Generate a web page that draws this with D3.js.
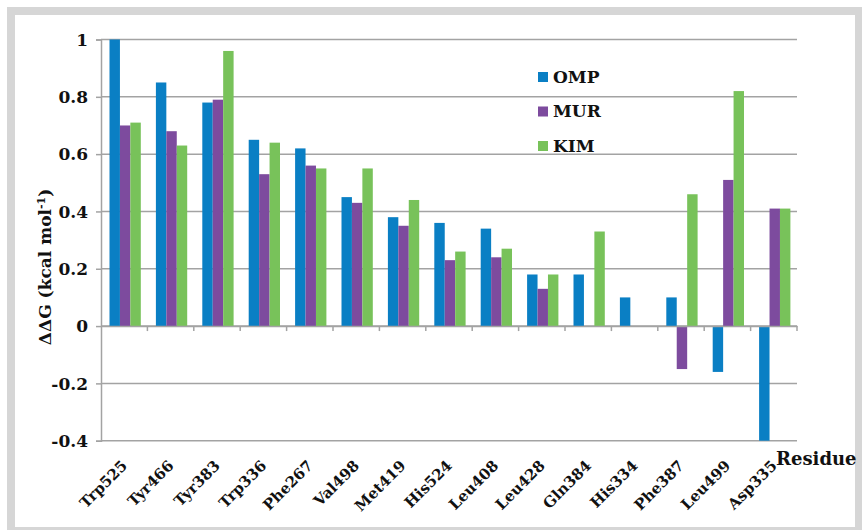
<!DOCTYPE html>
<html><head><meta charset="utf-8">
<script src="https://cdn.jsdelivr.net/npm/d3@7/dist/d3.min.js"></script>
<style>body{margin:0;background:#fff}svg{display:block}
.sf{font-family:"DejaVu Serif","Liberation Serif",serif;font-weight:bold;fill:#111}</style>
</head><body>
<svg id="c" width="862" height="530"></svg>
<script>
const categories = ["Trp525","Tyr466","Tyr383","Trp336","Phe267","Val498","Met419","His524","Leu408","Leu428","Gln384","His334","Phe387","Leu499","Asp335"];
const seriesNames = ["OMP","MUR","KIM"];
const omp = [1.00,0.85,0.78,0.65,0.62,0.45,0.38,0.36,0.34,0.18,0.18,0.10,0.10,-0.16,-0.40];
const mur = [0.70,0.68,0.79,0.53,0.56,0.43,0.35,0.23,0.24,0.13,0,0,-0.15,0.51,0.41];
const kim = [0.71,0.63,0.96,0.64,0.55,0.55,0.44,0.26,0.27,0.18,0.33,0,0.46,0.82,0.41];
const yTicks = [1,0.8,0.6,0.4,0.2,0,-0.2,-0.4];
const colors = ["#0a7fc4","#7d4b9e","#78c25a"];

const svg = d3.select("#c");
svg.append("rect").attr("x",7).attr("y",7).attr("width",855).attr("height",523).attr("fill","#d6d6d6");
svg.append("rect").attr("x",15).attr("y",15).attr("width",840).attr("height",512).attr("fill","#fff");

const L=101, R=797, T=39.5, B=440.7;
const y = d3.scaleLinear().domain([-0.4,1]).range([B,T]);
const x0 = d3.scaleBand().domain(categories).range([L,R]).padding(0);
const bw = x0.bandwidth();
const x1 = d3.scaleBand().domain(seriesNames).range([8.5, bw-6.6]).padding(0);
const gridCol = "#a3a3a3";

svg.append("g").selectAll("line").data(yTicks).join("line")
  .attr("x1",L).attr("x2",R).attr("y1",d=>y(d)).attr("y2",d=>y(d))
  .attr("stroke",gridCol).attr("stroke-width",1.5);

const yAxis = d3.axisLeft(y).tickValues(yTicks).tickSize(5).tickFormat(d=>String(+d.toFixed(1)));
const ga = svg.append("g").attr("transform",`translate(${L},0)`).call(yAxis);
ga.attr("font-family",null).attr("font-size",null);
ga.select(".domain").attr("stroke",gridCol).attr("stroke-width",1.5);
ga.selectAll(".tick line").attr("stroke",gridCol).attr("stroke-width",1.5);
ga.selectAll(".tick text").attr("class","sf").attr("fill",null)
  .style("font-size","17px").attr("x",-13).attr("dy","0.34em");

const data = categories.map((c,i)=>({c, v:[omp[i],mur[i],kim[i]]}));
const groups = svg.append("g").selectAll("g").data(data).join("g")
  .attr("transform",d=>`translate(${x0(d.c)},0)`);
groups.selectAll("rect").data(d=>d.v.map((v,j)=>({s:seriesNames[j],v,j}))).join("rect")
  .attr("x",d=>x1(d.s)).attr("width",x1.bandwidth())
  .attr("y",d=>y(Math.max(0,d.v))).attr("height",d=>Math.abs(y(d.v)-y(0)))
  .attr("fill",d=>colors[d.j]);

const xAxis = d3.axisBottom(x0).tickSize(0).tickFormat("");
const gx = svg.append("g").attr("transform",`translate(0,${y(0)})`).call(xAxis);
gx.select(".domain").attr("stroke",gridCol).attr("stroke-width",1.5);
const bounds = categories.map(c=>x0(c)+bw);
svg.append("g").selectAll("line").data(bounds).join("line")
  .attr("x1",d=>d).attr("x2",d=>d).attr("y1",y(0)).attr("y2",y(0)+5)
  .attr("stroke",gridCol).attr("stroke-width",1.5);

svg.append("g").selectAll("text").data(categories).join("text")
  .attr("class","sf").style("font-size","15px")
  .attr("transform",d=>`translate(${x0(d)+bw/2+4},${B+26}) rotate(-45)`)
  .attr("text-anchor","end").text(d=>d);

svg.append("text").attr("class","sf").style("font-size","18px")
  .attr("x",776).attr("y",465).text("Residue");
const yt = svg.append("text").attr("class","sf").style("font-size","17px")
  .attr("transform","translate(51,267) rotate(-90)").attr("text-anchor","middle");
yt.append("tspan").text("ΔΔG (kcal mol");
yt.append("tspan").style("font-size","11px").attr("dy",-6).text("-1");
yt.append("tspan").attr("dy",6).text(")");

const lg = svg.append("g").selectAll("g").data(seriesNames).join("g")
  .attr("transform",(d,i)=>`translate(538,${77+i*34.5})`);
lg.append("rect").attr("x",0).attr("y",-5).attr("width",10).attr("height",10).attr("fill",(d,i)=>colors[i]);
lg.append("text").attr("class","sf").style("font-size","17px")
  .attr("x",15).attr("y",0).attr("dy","0.35em").text(d=>d);
</script>
</body></html>
